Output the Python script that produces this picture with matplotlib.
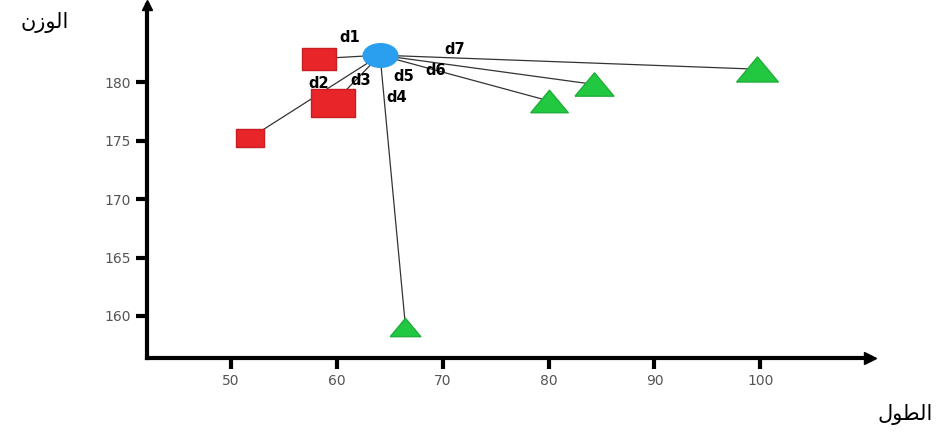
import numpy as np
import matplotlib.pyplot as plt

# data
query_x, query_y = 64.1, 182.3
red_x = [58.3, 59.7, 51.8]
red_y = [182.0, 178.2, 175.2]
green_x = [66.5, 80.0, 84.3, 99.7]
green_y = [159.1, 178.4, 179.8, 181.1]
x_ticks = [50, 60, 70, 80, 90, 100]
y_ticks = [160, 165, 170, 175, 180]
dist_labels = ['d1', 'd3', 'd2', 'd4', 'd5', 'd6', 'd7']

# styles (marker widths in points)
red_w = [25, 32, 20]
green_w = [22, 27, 28, 30]
label_pos = [(-2.85, 1.5), (-1.85, -2.2), (-5.8, -2.4), (1.6, -3.65), (2.25, -1.8), (5.25, -1.3), (7.05, 0.5)]

rect = [(-0.7, -0.45), (0.7, -0.45), (0.7, 0.45), (-0.7, 0.45), (-0.7, -0.45)]
tri = [(-0.7, -0.42), (0.7, -0.42), (0.0, 0.42), (-0.7, -0.42)]
t = np.linspace(0, 2 * np.pi, 60)
ellipse = list(zip(np.cos(t), 0.68 * np.sin(t)))

fig = plt.figure(figsize=(9.36, 4.41), dpi=100)
ax = fig.add_axes([0.157, 0.188, 0.772, 0.801])
ax.set_xlim(42.1, 110.3)
ax.set_ylim(156.4, 186.6)

for s in ['top', 'right']:
    ax.spines[s].set_visible(False)
for s in ['left', 'bottom']:
    ax.spines[s].set_linewidth(3)
ax.plot(1, 0, marker='>', ms=9, color='black', transform=ax.transAxes, clip_on=False)
ax.plot(0, 1, marker='^', ms=7, color='black', transform=ax.transAxes, clip_on=False)

ax.set_xticks(x_ticks)
ax.set_yticks(y_ticks)
ax.tick_params(axis='both', length=8, width=3, color='black', labelcolor='#555555', labelsize=10)

# distance lines from the query point
all_x = red_x + green_x
all_y = red_y + green_y
for px, py in zip(all_x, all_y):
    ax.plot([query_x, px], [query_y, py], color='#333333', lw=0.9, zorder=1)

for px, py, w in zip(red_x, red_y, red_w):
    ax.plot(px, py, marker=rect, ms=w, color='#e8262a', mec='#c81e22', zorder=3)
for px, py, w in zip(green_x, green_y, green_w):
    ax.plot(px, py, marker=tri, ms=w, color='#22c840', mec='#1fae3a', zorder=3)
ax.plot(query_x, query_y, marker=ellipse, ms=25, color='#2a9ff0', mec='#2a9ff0', zorder=4)

for lab, (dx, dy) in zip(dist_labels, label_pos):
    ax.text(query_x + dx, query_y + dy, lab, fontsize=10.5, fontweight='bold',
            ha='center', va='center', zorder=5)

# Arabic axis titles (presentation forms, visual order)
fig.text(0.048, 0.95, '\ufee5\ufeaf\ufeee\ufedf\ufe8d', fontsize=15, ha='center', va='center',
         family=['DejaVu Sans'])
fig.text(0.967, 0.06, '\ufedd\ufeee\ufec4\ufedf\ufe8d', fontsize=15, ha='center', va='center',
         family=['DejaVu Sans'])

fig.savefig('out.png', dpi=100)
